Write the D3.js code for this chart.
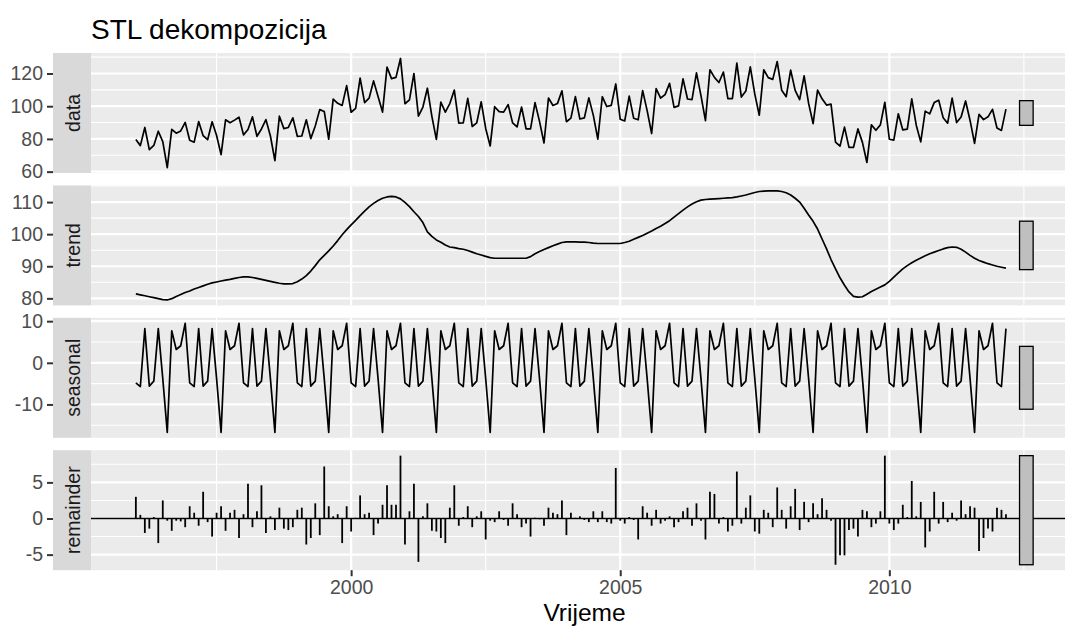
<!DOCTYPE html>
<html><head><meta charset="utf-8">
<script src="https://cdn.jsdelivr.net/npm/d3@7"></script>
<style>body{margin:0;background:#fff}svg{display:block}</style>
</head><body>
<svg id="chart" width="1065" height="627"></svg>
<script>
// ---------- data (monthly series, Jan 1996 - Mar 2012) ----------
const startYear = 1996;
const frequency = 12;
const panelNames = ["data", "trend", "seasonal", "remainder"];
const titleText = "STL dekompozicija";
const xTitleText = "Vrijeme";

const dataValues = [
  79.6, 75.9, 87.0, 73.5, 76.0, 84.7, 78.3, 62.5, 85.9, 83.5, 84.9, 90.1,
  79.2, 78.0, 90.6, 82.0, 79.5, 90.5, 82.1, 70.4, 91.7, 89.9, 91.5, 93.3,
  82.5, 85.8, 93.5, 81.6, 86.1, 91.8, 81.8, 66.7, 93.9, 86.3, 87.0, 92.9,
  81.6, 81.8, 91.7, 80.2, 87.9, 97.9, 96.8, 79.8, 104.3, 101.8, 100.5, 112.6,
  96.3, 98.7, 117.2, 102.2, 104.9, 115.5, 106.0, 96.4, 123.9, 116.9, 117.6, 129.2,
  101.5, 103.9, 120.0, 93.9, 99.5, 111.0, 93.8, 79.7, 102.5, 96.4, 101.6, 109.9,
  89.7, 89.8, 104.8, 87.6, 89.8, 102.7, 86.4, 75.7, 99.7, 96.7, 96.4, 101.0,
  89.8, 87.4, 99.5, 86.2, 86.1, 102.2, 90.7, 77.5, 105.0, 100.4, 101.6, 109.4,
  90.5, 92.7, 105.9, 92.2, 92.9, 105.1, 94.4, 79.9, 105.8, 99.8, 100.5, 113.6,
  92.0, 91.0, 106.2, 92.6, 91.7, 109.5, 97.3, 83.3, 110.7, 105.0, 107.1, 114.0,
  99.3, 100.2, 116.7, 104.4, 104.0, 120.4, 106.5, 91.2, 122.3, 117.6, 114.5, 120.9,
  104.7, 104.7, 126.3, 105.6, 109.3, 124.0, 107.4, 94.5, 122.3, 117.5, 116.4, 127.3,
  109.7, 105.8, 122.1, 109.7, 104.0, 118.6, 101.7, 89.4, 109.9, 104.5, 100.7, 101.3,
  78.0, 75.6, 87.2, 74.8, 74.8, 86.1, 77.9, 65.6, 88.6, 85.3, 88.6, 102.4,
  79.8, 79.3, 95.4, 85.5, 86.0, 104.5, 88.4, 78.2, 97.0, 95.3, 102.2, 103.7,
  92.9, 89.6, 105.0, 90.0, 93.4, 103.2, 91.3, 77.3, 95.0, 91.8, 93.5, 98.1,
  86.7, 85.2, 98.2
];

const trendValues = [
  81.4, 81.1, 80.8, 80.5, 80.2, 79.9, 79.6, 79.5, 79.9, 80.6, 81.2, 81.8,
  82.3, 82.9, 83.4, 83.9, 84.4, 84.8, 85.1, 85.4, 85.7, 85.9, 86.2, 86.5,
  86.7, 86.7, 86.5, 86.2, 85.9, 85.6, 85.3, 85.0, 84.7, 84.5, 84.5, 84.6,
  85.2, 86.0, 87.1, 88.5, 90.2, 92.0, 93.4, 94.8, 96.3, 98.0, 99.8, 101.4,
  102.9, 104.3, 105.8, 107.2, 108.5, 109.6, 110.5, 111.2, 111.6, 111.8, 111.6, 111.0,
  109.9, 108.6, 107.0, 105.5, 103.6, 100.7, 99.3, 98.2, 97.5, 96.6, 96.0, 95.8,
  95.5, 95.3, 94.9, 94.4, 93.9, 93.5, 93.1, 92.7, 92.5, 92.5, 92.5, 92.5,
  92.5, 92.5, 92.5, 92.5, 93.0, 93.9, 94.6, 95.2, 95.8, 96.4, 96.9, 97.4,
  97.6, 97.6, 97.6, 97.5, 97.5, 97.4, 97.2, 97.1, 97.1, 97.1, 97.1, 97.1,
  97.1, 97.4, 97.8, 98.4, 99.0, 99.6, 100.3, 101.0, 101.8, 102.5, 103.3, 104.2,
  105.3, 106.4, 107.5, 108.5, 109.4, 110.1, 110.6, 110.8, 110.9, 111.0, 111.1, 111.2,
  111.3, 111.4, 111.6, 111.9, 112.2, 112.6, 113.0, 113.3, 113.4, 113.5, 113.5, 113.5,
  113.3, 112.9, 112.2, 111.2, 110.0, 108.1, 106.0, 104.0, 101.6, 98.5, 95.4, 92.1,
  89.2, 86.4, 84.1, 82.0, 80.6, 80.4, 80.5, 81.3, 82.1, 82.8, 83.5, 84.2,
  85.3, 86.6, 87.9, 89.2, 90.2, 91.1, 91.9, 92.6, 93.3, 93.9, 94.4, 94.9,
  95.4, 95.8, 96.0, 95.9, 95.3, 94.4, 93.4, 92.5, 91.8, 91.3, 90.8, 90.4,
  90.0, 89.7, 89.4
];

const seasonalValues = [
  -4.8, -5.7, 8.2, -5.6, -4.4, 8.2, -3.8, -16.7, 7.7, 3.2, 4.1, 9.5,
  -4.8, -5.7, 8.2, -5.6, -4.4, 8.2, -3.8, -16.7, 7.7, 3.2, 4.1, 9.5,
  -4.8, -5.7, 8.2, -5.6, -4.4, 8.2, -3.8, -16.7, 7.7, 3.2, 4.1, 9.5,
  -4.8, -5.7, 8.2, -5.6, -4.4, 8.2, -3.8, -16.7, 7.7, 3.2, 4.1, 9.5,
  -4.8, -5.7, 8.2, -5.6, -4.4, 8.2, -3.8, -16.7, 7.7, 3.2, 4.1, 9.5,
  -4.8, -5.7, 8.2, -5.6, -4.4, 8.2, -3.8, -16.7, 7.7, 3.2, 4.1, 9.5,
  -4.8, -5.7, 8.2, -5.6, -4.4, 8.2, -3.8, -16.7, 7.7, 3.2, 4.1, 9.5,
  -4.8, -5.7, 8.2, -5.6, -4.4, 8.2, -3.8, -16.7, 7.7, 3.2, 4.1, 9.5,
  -4.8, -5.7, 8.2, -5.6, -4.4, 8.2, -3.8, -16.7, 7.7, 3.2, 4.1, 9.5,
  -4.8, -5.7, 8.2, -5.6, -4.4, 8.2, -3.8, -16.7, 7.7, 3.2, 4.1, 9.5,
  -4.8, -5.7, 8.2, -5.6, -4.4, 8.2, -3.8, -16.7, 7.7, 3.2, 4.1, 9.5,
  -4.8, -5.7, 8.2, -5.6, -4.4, 8.2, -3.8, -16.7, 7.7, 3.2, 4.1, 9.5,
  -4.8, -5.7, 8.2, -5.6, -4.4, 8.2, -3.8, -16.7, 7.7, 3.2, 4.1, 9.5,
  -4.8, -5.7, 8.2, -5.6, -4.4, 8.2, -3.8, -16.7, 7.7, 3.2, 4.1, 9.5,
  -4.8, -5.7, 8.2, -5.6, -4.4, 8.2, -3.8, -16.7, 7.7, 3.2, 4.1, 9.5,
  -4.8, -5.7, 8.2, -5.6, -4.4, 8.2, -3.8, -16.7, 7.7, 3.2, 4.1, 9.5,
  -4.8, -5.7, 8.2
];

const remainderValues = [
  3.0, 0.5, -2.0, -1.4, 0.2, -3.4, 2.5, -0.3, -1.7, -0.3, -0.4, -1.2,
  1.7, 0.8, -1.0, 3.7, -0.5, -2.5, 0.8, 1.7, -1.7, 0.8, 1.2, -2.7,
  0.6, 4.8, -1.2, 1.0, 4.6, -2.0, 0.3, -1.6, 1.5, -1.4, -1.6, -1.2,
  1.2, 1.5, -3.6, -2.7, 2.1, -2.3, 7.2, 1.7, 0.3, 0.6, -3.4, 1.7,
  -1.8, 0.1, 3.2, 0.6, 0.8, -2.3, -0.7, 1.9, 4.6, 1.9, 1.9, 8.7,
  -3.6, 1.0, 4.8, -6.0, 0.3, 2.1, -1.7, -1.8, -2.7, -3.4, 1.5, 4.6,
  -1.0, 0.2, 1.7, -1.2, 0.3, 1.0, -2.9, -0.3, -0.5, 1.0, -0.2, -1.0,
  2.1, 0.6, -1.2, -0.7, -2.5, 0.1, -0.1, -1.0, 1.5, 0.8, 0.6, 2.5,
  -2.3, 0.8, 0.1, 0.3, -0.2, -0.5, 1.0, -0.5, 1.0, -0.5, -0.7, 7.0,
  -0.3, -0.7, 0.2, -0.2, -2.9, 1.7, 0.8, -1.0, 1.2, -0.7, -0.3, 0.3,
  -1.2, -0.5, 1.0, 1.5, -1.0, 2.1, -0.3, -2.9, 3.7, 3.4, -0.7, 0.2,
  -1.8, -1.0, 6.5, -0.7, 1.5, 3.2, -1.8, -2.1, 1.2, 0.8, -1.2, 4.3,
  1.2, -1.4, 1.7, 4.1, -1.6, 2.3, -0.5, 2.1, 0.6, 2.8, 1.2, -0.3,
  -6.4, -5.1, -5.1, -1.6, -1.4, -2.5, 1.2, 1.0, -1.2, -0.7, 1.0, 8.7,
  -0.7, -1.6, -0.7, 1.9, 0.2, 5.2, 0.3, 2.3, -4.0, -1.8, 3.7, -0.7,
  2.3, -0.5, 0.8, -0.3, 2.5, 0.6, 1.7, 1.5, -4.5, -2.7, -1.4, -1.8,
  1.5, 1.2, 0.6
];

const dataTicks = [60, 80, 100, 120];
const trendTicks = [80, 90, 100, 110];
const seasonalTicks = [-10, 0, 10];
const remainderTicks = [-5, 0, 5];
const xTicks = [2000, 2005, 2010];
const xTickLabels = ["2000", "2005", "2010"];

// ---------- layout ----------
const FONT = "'Liberation Sans', Arial, Helvetica, sans-serif";
const panelLeft = 91, panelRight = 1078;
const stripLeft = 53;
const panelTop0 = 53, panelH = 120, panelGap = 12.4;

const svg = d3.select("#chart");
svg.append("rect").attr("width", 1065).attr("height", 627).attr("fill", "#fff");

const n = dataValues.length;
const times = d3.range(n).map(i => startYear + i / frequency);
const series = [dataValues, trendValues, seasonalValues, remainderValues];
const ticksList = [dataTicks, trendTicks, seasonalTicks, remainderTicks];

// range bars (as forecast::autoplot.stl)
const tFirst = times[0], tLast = times[n - 1];
const barWidth = (tLast - tFirst) / 64;
const barLeft = tLast + barWidth, barRight = tLast + 2 * barWidth;
const barLength = d3.min(series, s => d3.max(s) - d3.min(s));

const xPad = (barRight - tFirst) * 0.05;
const x = d3.scaleLinear().domain([tFirst - xPad, barRight + xPad]).range([panelLeft, panelRight]);

// minor x breaks
const xStep = xTicks[1] - xTicks[0];
const xMinor = d3.range(xTicks[0] - xStep / 2, xTicks[xTicks.length - 1] + xStep, xStep)
  .filter(v => v >= x.domain()[0] && v <= x.domain()[1]);

svg.append("defs").append("clipPath").attr("id", "clipAll")
  .append("rect").attr("x", 0).attr("y", 0).attr("width", 1065).attr("height", 627);

series.forEach((vals, p) => {
  const top = panelTop0 + p * (panelH + panelGap);
  const bottom = top + panelH;
  const lo = d3.min(vals), hi = d3.max(vals);
  const pad = (hi - lo) * 0.05;
  const y = d3.scaleLinear().domain([lo - pad, hi + pad]).range([bottom, top]);
  const ticks = ticksList[p];
  const step = ticks[1] - ticks[0];
  const yMinor = d3.range(ticks[0] - step / 2, ticks[ticks.length - 1] + step, step)
    .filter(v => v > y.domain()[0] && v < y.domain()[1]);

  const g = svg.append("g");
  g.append("rect").attr("x", panelLeft).attr("y", top).attr("width", panelRight - panelLeft)
    .attr("height", panelH).attr("fill", "#EBEBEB");

  // minor grid
  g.selectAll(".ymin").data(yMinor).join("line")
    .attr("x1", panelLeft).attr("x2", panelRight).attr("y1", d => y(d)).attr("y2", d => y(d))
    .attr("stroke", "#fff").attr("stroke-width", 1.1);
  g.selectAll(".xmin").data(xMinor).join("line")
    .attr("x1", d => x(d)).attr("x2", d => x(d)).attr("y1", top).attr("y2", bottom)
    .attr("stroke", "#fff").attr("stroke-width", 1.1);
  // major grid
  g.selectAll(".ymaj").data(ticks).join("line")
    .attr("x1", panelLeft).attr("x2", panelRight).attr("y1", d => y(d)).attr("y2", d => y(d))
    .attr("stroke", "#fff").attr("stroke-width", 2.2);
  g.selectAll(".xmaj").data(xTicks).join("line")
    .attr("x1", d => x(d)).attr("x2", d => x(d)).attr("y1", top).attr("y2", bottom)
    .attr("stroke", "#fff").attr("stroke-width", 2.2);

  if (p < 3) {
    const line = d3.line().x((d, i) => x(times[i])).y(d => y(d));
    g.append("path").datum(vals).attr("d", line).attr("fill", "none")
      .attr("stroke", "#000").attr("stroke-width", 1.7).attr("stroke-linejoin", "round");
  } else {
    g.selectAll(".bar").data(vals).join("line")
      .attr("x1", (d, i) => x(times[i])).attr("x2", (d, i) => x(times[i]))
      .attr("y1", y(0)).attr("y2", d => y(d))
      .attr("stroke", "#000").attr("stroke-width", 1.8);
    g.append("line").attr("x1", panelLeft).attr("x2", panelRight)
      .attr("y1", y(0)).attr("y2", y(0)).attr("stroke", "#000").attr("stroke-width", 1.5);
  }

  // range bar
  const mid = (lo + hi) / 2;
  g.append("rect")
    .attr("x", x(barLeft)).attr("width", x(barRight) - x(barLeft))
    .attr("y", y(mid + barLength / 2)).attr("height", y(mid - barLength / 2) - y(mid + barLength / 2))
    .attr("fill", "#BFBFBF").attr("stroke", "#000").attr("stroke-width", 1.3);

  // strip
  g.append("rect").attr("x", stripLeft).attr("y", top).attr("width", panelLeft - stripLeft)
    .attr("height", panelH).attr("fill", "#D9D9D9");
  g.append("text")
    .attr("transform", `translate(${(stripLeft + panelLeft) / 2 + 1},${(top + bottom) / 2}) rotate(-90)`)
    .attr("text-anchor", "middle").attr("dominant-baseline", "central")
    .attr("font-family", FONT).attr("font-size", 19.5).attr("fill", "#1A1A1A")
    .text(panelNames[p]);

  // y axis
  const ax = svg.append("g").attr("transform", `translate(${stripLeft},0)`)
    .call(d3.axisLeft(y).tickValues(ticks).tickSize(6).tickPadding(4).tickFormat(d => String(d)));
  ax.select(".domain").remove();
  ax.selectAll(".tick line").attr("stroke", "#333").attr("stroke-width", 2);
  ax.selectAll(".tick text").attr("font-family", FONT).attr("font-size", 19.5).attr("fill", "#4D4D4D");

  if (p === 3) {
    const bx = svg.append("g").attr("transform", `translate(0,${bottom})`)
      .call(d3.axisBottom(x).tickValues(xTicks).tickSize(6).tickPadding(4)
        .tickFormat((d, i) => xTickLabels[i]));
    bx.select(".domain").remove();
    bx.selectAll(".tick line").attr("stroke", "#333").attr("stroke-width", 2);
    bx.selectAll(".tick text").attr("font-family", FONT).attr("font-size", 19.5).attr("fill", "#4D4D4D");
  }
});

// titles
svg.append("text").attr("x", panelLeft).attr("y", 39)
  .attr("font-family", FONT).attr("font-size", 28).attr("fill", "#000").text(titleText);
svg.append("text").attr("x", (panelLeft + panelRight) / 2).attr("y", 621)
  .attr("text-anchor", "middle")
  .attr("font-family", FONT).attr("font-size", 24.5).attr("fill", "#000").text(xTitleText);
</script>
</body></html>
